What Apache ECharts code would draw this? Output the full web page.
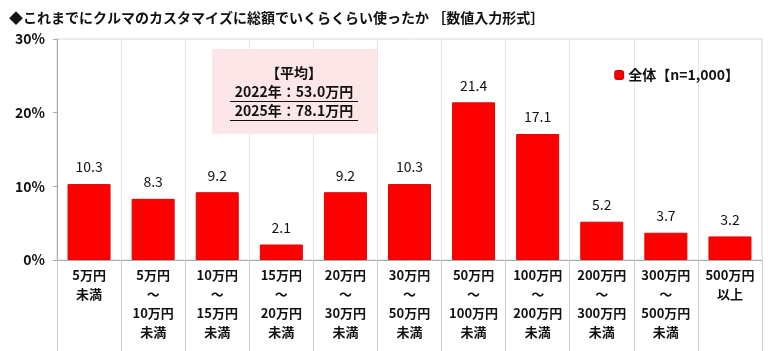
<!DOCTYPE html>
<html>
<head>
<meta charset="utf-8">
<script src="https://cdn.jsdelivr.net/npm/echarts@6/dist/echarts.min.js"></script>
<style>
  html, body { margin: 0; padding: 0; background: #fff; }
  #mainchart { width: 768px; height: 351px; }
</style>
</head>
<body>
<div id="mainchart"></div>
<script>
var FONT = '"Noto Sans CJK JP", "Noto Sans", sans-serif';

// データ
var categories = [
    '5万円\n未満',
    '5万円\n～\n10万円\n未満',
    '10万円\n～\n15万円\n未満',
    '15万円\n～\n20万円\n未満',
    '20万円\n～\n30万円\n未満',
    '30万円\n～\n50万円\n未満',
    '50万円\n～\n100万円\n未満',
    '100万円\n～\n200万円\n未満',
    '200万円\n～\n300万円\n未満',
    '300万円\n～\n500万円\n未満',
    '500万円\n以上'
];
var values = [10.3, 8.3, 9.2, 2.1, 9.2, 10.3, 21.4, 17.1, 5.2, 3.7, 3.2];
var seriesName = '全体【n=1,000】';
var yTicks = [0, 10, 20, 30];
var avgLines = ['【平均】', '2022年：53.0万円', '2025年：78.1万円'];

var myChart = echarts.init(document.getElementById('mainchart'));

var option = {
    animation: false,
    title: {
        text: '◆これまでにクルマのカスタマイズに総額でいくらくらい使ったか ［数値入力形式］',
        left: 4,
        top: 6,
        textStyle: { fontFamily: FONT, fontSize: 14, fontWeight: 'bold', color: '#111' }
    },
    legend: {
        data: [seriesName],
        right: 24,
        top: 63,
        itemWidth: 8,
        itemHeight: 8,
        itemGap: 4,
        textStyle: { fontFamily: FONT, fontSize: 14, fontWeight: 'bold', color: '#111' }
    },
    grid: {
        left: 57,
        right: 6,
        top: 39,
        bottom: 91,
        show: true,
        borderColor: '#d8d8d8',
        borderWidth: 1
    },
    xAxis: {
        type: 'category',
        data: categories,
        axisLine: { lineStyle: { color: '#aaa' } },
        axisTick: { show: true, length: 92, lineStyle: { color: '#c8c8c8' } },
        splitLine: { show: true, lineStyle: { color: '#e6e6e6' } },
        axisLabel: {
            interval: 0,
            margin: 6,
            fontFamily: FONT,
            fontSize: 13,
            fontWeight: 'bold',
            color: '#111',
            lineHeight: 19
        }
    },
    yAxis: {
        type: 'value',
        min: yTicks[0],
        max: yTicks[yTicks.length - 1],
        interval: 10,
        axisLine: { show: true, lineStyle: { color: '#aaa' } },
        axisTick: { show: true, length: 4, lineStyle: { color: '#aaa' } },
        splitLine: { show: false },
        axisLabel: {
            formatter: '{value}%',
            margin: 12,
            fontFamily: FONT,
            fontSize: 14,
            fontWeight: 'bold',
            color: '#111'
        }
    },
    series: [{
        name: seriesName,
        type: 'bar',
        data: values,
        barWidth: 43,
        itemStyle: { color: '#ff0000', borderColor: '#e00000', borderWidth: 1 },
        label: {
            show: true,
            position: 'top',
            distance: 10,
            formatter: function (p) { return p.value.toFixed(1); },
            fontFamily: FONT,
            fontSize: 14,
            color: '#111'
        }
    }],
    graphic: [
        {
            type: 'rect',
            shape: { x: 212, y: 49, width: 165, height: 85 },
            style: { fill: '#fce6e8' },
            z: 1
        },
        {
            type: 'text',
            x: 294, y: 73,
            style: { text: avgLines[0], fontFamily: FONT, fontSize: 14, fontWeight: 'bold', fill: '#111', align: 'center', verticalAlign: 'middle' },
            z: 2
        },
        {
            type: 'text',
            x: 294, y: 92,
            style: { text: avgLines[1], fontFamily: FONT, fontSize: 14, fontWeight: 'bold', fill: '#111', align: 'center', verticalAlign: 'middle' },
            z: 2
        },
        {
            type: 'line',
            shape: { x1: 230, y1: 101.5, x2: 358, y2: 101.5 },
            style: { stroke: '#111', lineWidth: 1 },
            z: 2
        },
        {
            type: 'text',
            x: 294, y: 111,
            style: { text: avgLines[2], fontFamily: FONT, fontSize: 14, fontWeight: 'bold', fill: '#111', align: 'center', verticalAlign: 'middle' },
            z: 2
        },
        {
            type: 'line',
            shape: { x1: 230, y1: 120.5, x2: 358, y2: 120.5 },
            style: { stroke: '#111', lineWidth: 1 },
            z: 2
        }
    ]
};

myChart.setOption(option);
</script>
</body>
</html>
